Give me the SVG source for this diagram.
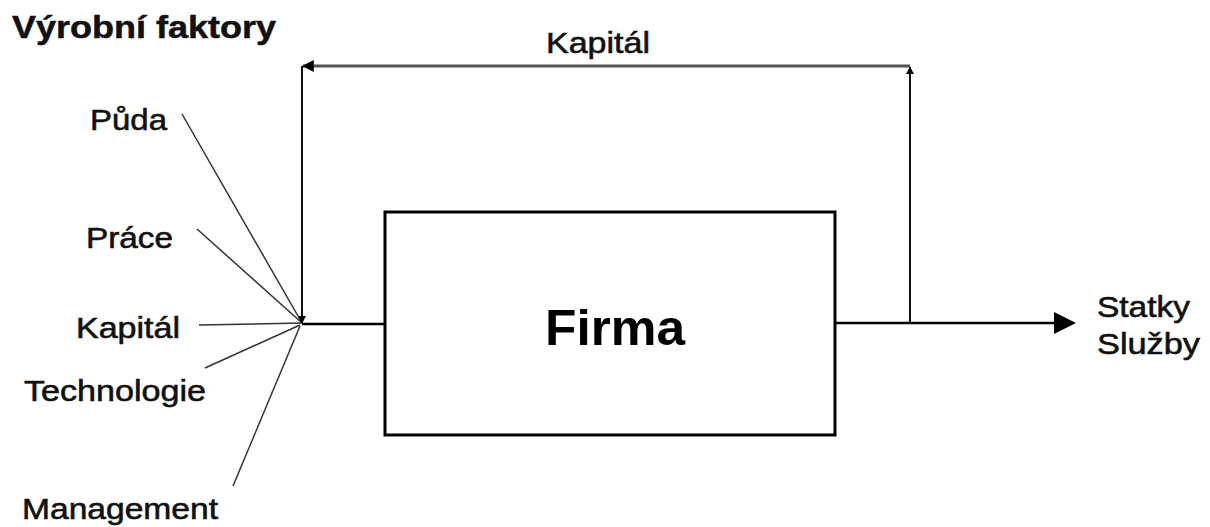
<svg xmlns="http://www.w3.org/2000/svg" width="1210" height="527" viewBox="0 0 1210 527">
  <defs>
    <marker id="arrowSmall" viewBox="0 0 10 10" refX="9" refY="5" markerWidth="4" markerHeight="4" orient="auto" markerUnits="strokeWidth">
      <path d="M0,0 L10,5 L0,10 z" fill="#000"/>
    </marker>
    <marker id="arrowBig" viewBox="0 0 10 10" refX="2" refY="5" markerWidth="9" markerHeight="9" orient="auto" markerUnits="strokeWidth">
      <path d="M0,0 L10,5 L0,10 z" fill="#000"/>
    </marker>
  </defs>
  <style>
    .lbl { font-family: "Liberation Sans", Arial, sans-serif; font-size: 30px; fill: #111; stroke: #111; stroke-width: 0.6; }
    .title { font-family: "Liberation Sans", Arial, sans-serif; font-size: 31px; font-weight: bold; fill: #111; stroke: #111; stroke-width: 0.5; }
    .firm { font-family: "Liberation Sans", Arial, sans-serif; font-size: 50px; font-weight: bold; fill: #000; }
    .factor { stroke: #333; stroke-width: 1.5; fill: none; }
    .flow { stroke: #000; stroke-width: 2.5; fill: none; }
    .loop { stroke: #111; stroke-width: 2; fill: none; }
  </style>
  <rect width="1210" height="527" fill="#fff"/>

  <text class="title" x="12" y="38" textLength="264" lengthAdjust="spacingAndGlyphs">Výrobní faktory</text>

  <!-- input factors -->
  <g id="factor-puda"><text class="lbl" x="90" y="130" textLength="77" lengthAdjust="spacingAndGlyphs">Půda</text></g>
  <g id="factor-prace"><text class="lbl" x="86" y="248" textLength="87" lengthAdjust="spacingAndGlyphs">Práce</text></g>
  <g id="factor-kapital"><text class="lbl" x="76" y="338" textLength="104" lengthAdjust="spacingAndGlyphs">Kapitál</text></g>
  <g id="factor-technologie"><text class="lbl" x="24" y="401" textLength="182" lengthAdjust="spacingAndGlyphs">Technologie</text></g>
  <g id="factor-management"><text class="lbl" x="22" y="519" textLength="196" lengthAdjust="spacingAndGlyphs">Management</text></g>

  <!-- firm -->
  <g id="firma">
    <rect x="385" y="212" width="450" height="223" fill="#fff" stroke="#000" stroke-width="3"/>
    <text class="firm" x="545" y="345" textLength="140" lengthAdjust="spacingAndGlyphs">Firma</text>
  </g>

  <!-- output -->
  <g id="output">
    <text class="lbl" x="1097" y="317" textLength="93" lengthAdjust="spacingAndGlyphs">Statky</text>
    <text class="lbl" x="1097" y="354" textLength="103" lengthAdjust="spacingAndGlyphs">Služby</text>
  </g>

  <!-- capital loop label -->
  <g id="kapital-loop"><text class="lbl" x="546" y="53" textLength="104" lengthAdjust="spacingAndGlyphs">Kapitál</text></g>

  <g id="connectors">
    <line class="factor" x1="182" y1="114" x2="302" y2="323"/>
    <line class="factor" x1="197" y1="229" x2="302" y2="323"/>
    <line class="factor" x1="199" y1="325" x2="302" y2="323"/>
    <line class="factor" x1="205" y1="368" x2="300" y2="325"/>
    <line class="factor" x1="233" y1="486" x2="300" y2="326"/>

    <line class="flow" x1="302" y1="324" x2="385" y2="324"/>
    <line class="flow" x1="835" y1="323" x2="1058" y2="323" marker-end="url(#arrowBig)"/>

    <line class="loop" x1="910" y1="323" x2="910" y2="67" marker-end="url(#arrowSmall)"/>
    <line x1="910" y1="66" x2="303" y2="66" stroke="#555" stroke-width="3" marker-end="url(#arrowSmall)"/>
    <line class="loop" x1="302" y1="66" x2="302" y2="323" marker-end="url(#arrowSmall)"/>
  </g>
</svg>
